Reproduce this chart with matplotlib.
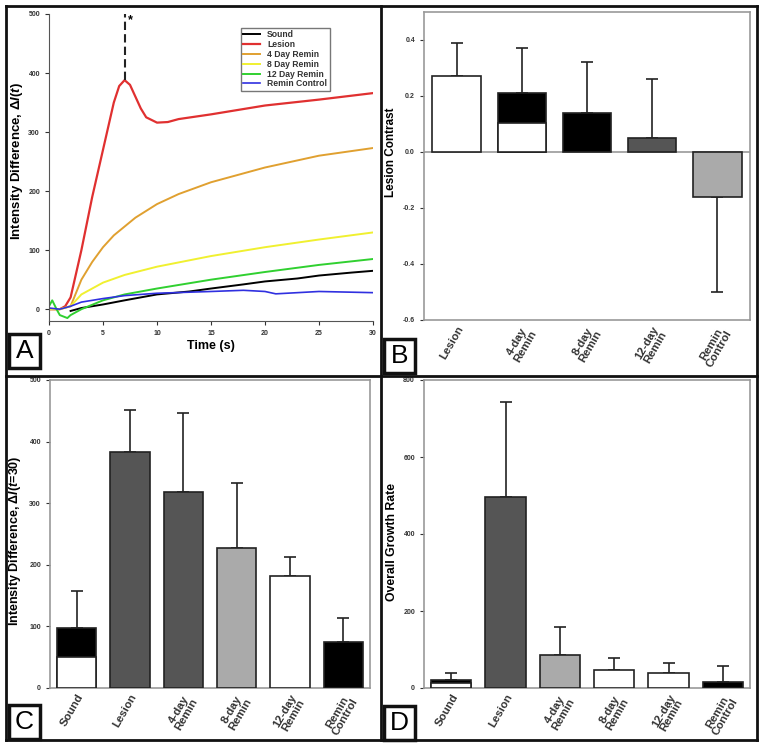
import matplotlib
matplotlib.use('Agg')

import matplotlib.pyplot as plt
from matplotlib.lines import Line2D
from matplotlib.patches import Rectangle
from matplotlib.transforms import ScaledTranslation

plt.rcParams['font.family'] = ['Liberation Sans', 'DejaVu Sans']
plt.rcParams['font.weight'] = 'bold'
plt.rcParams['mathtext.fontset'] = 'custom'
plt.rcParams['mathtext.rm'] = 'Liberation Sans:bold'
plt.rcParams['mathtext.it'] = 'Liberation Sans:bold:italic'

W, H = 764, 749

# Panel A: intensity difference over time
t_sound = [2, 3, 5, 7, 10, 13, 15, 18, 20, 23, 25, 28, 30]
y_sound = [-3, 2, 8, 15, 25, 30, 35, 42, 47, 52, 57, 62, 65]
t_lesion = [0, 1, 1.5, 2, 3, 4, 5, 6, 6.5, 7, 7.5, 8, 8.5, 9, 10, 11, 12, 15, 20, 25, 30]
y_lesion = [0, 0, 5, 20, 100, 190, 270, 350, 378, 388, 380, 360, 340, 325, 316, 317, 322, 330, 345, 355, 366]
t_4day = [0, 1, 2, 3, 4, 5, 6, 7, 8, 10, 12, 15, 20, 25, 30]
y_4day = [0, 0, 5, 50, 80, 105, 125, 140, 155, 178, 195, 215, 240, 260, 273]
t_8day = [0, 1, 2, 3, 5, 7, 10, 15, 20, 25, 30]
y_8day = [0, 0, 5, 25, 45, 58, 72, 90, 105, 118, 130]
t_12day = [0, 0.3, 0.7, 1, 1.7, 2, 3, 5, 7, 10, 15, 20, 25, 30]
y_12day = [5, 15, 0, -10, -15, -10, 0, 15, 25, 35, 50, 63, 75, 85]
t_ctrl = [0, 1, 2, 3, 5, 7, 10, 15, 18, 20, 21, 25, 30]
y_ctrl = [2, 0, 5, 12, 18, 23, 27, 30, 32, 30, 26, 30, 28]
peak_time = 7
peak_value = 388

# Panel B: lesion contrast
b_labels = ['Lesion', '4-day\nRemin', '8-day\nRemin', '12-day\nRemin', 'Remin\nControl']
b_values = [0.27, 0.21, 0.14, 0.05, -0.16]
b_split = [0, 0.105, 0, 0, 0]
b_err = [0.12, 0.16, 0.18, 0.21, 0.34]

# Panel C: intensity difference at t=30
c_labels = ['Sound', 'Lesion', '4-day\nRemin', '8-day\nRemin', '12-day\nRemin', 'Remin\nControl']
c_values = [98, 383, 318, 228, 182, 75]
c_split = [50, 0, 0, 0, 0, 0]
c_err = [59, 69, 128, 104, 30, 39]

# Panel D: overall growth rate
d_labels = c_labels
d_values = [22, 495, 85, 48, 40, 16]
d_split = [13, 0, 0, 0, 0, 0]
d_err = [16, 247, 73, 30, 25, 41]

b_colors = ['white', 'black', 'black', '#555555', '#aaaaaa']
c_colors = ['black', '#555555', '#555555', '#aaaaaa', 'white', 'black']
d_colors = ['black', '#555555', '#aaaaaa', 'white', 'white', 'black']

fig = plt.figure(figsize=(W / 100, H / 100), dpi=100)


def ax_at(left, top, right, bottom):
    return fig.add_axes([left / W, 1 - bottom / H, (right - left) / W, (bottom - top) / H])


def style_ticks(ax):
    ax.tick_params(axis='y', labelsize=5, length=3, colors='#333333', width=0.8)
    for lab in ax.get_yticklabels():
        lab.set_fontweight('bold')


def bar_panel(ax, labels, values, split, err, colors):
    x = list(range(len(values)))
    ax.bar(x, values, width=0.74, color=colors, edgecolor='#222222', linewidth=1.2, zorder=3)
    for i in x:
        if split[i]:
            ax.bar(i, split[i], width=0.74, color='white', edgecolor='#222222', linewidth=1.2, zorder=4)
        if values[i] < 0:
            lo, hi = [err[i]], [0]
        else:
            lo, hi = [0], [err[i]]
        ax.errorbar(i, values[i], yerr=[lo, hi], fmt='none', ecolor='#222222',
                    elinewidth=1.2, capsize=4, capthick=1.2, zorder=2)
    ax.set_xlim(-0.5, len(values) - 0.5)
    ax.set_xticks(x)
    ax.set_xticklabels(labels, rotation=60, ha='right', va='top', rotation_mode='anchor',
                       fontsize=8.2, fontweight='bold', color='#333333', linespacing=0.9,
                       multialignment='center')
    shift = ScaledTranslation(0.13, 0, fig.dpi_scale_trans)
    for lab in ax.get_xticklabels():
        lab.set_transform(lab.get_transform() + shift)
    ax.tick_params(axis='x', length=0, pad=3)
    for s in ax.spines.values():
        s.set_color('#999999')
        s.set_linewidth(1.2)


# Panel A
axA = ax_at(49, 14, 373, 321)
axA.plot(t_sound, y_sound, color='black', lw=1.4, label='Sound')
axA.plot(t_lesion, y_lesion, color='#e03030', lw=1.6, label='Lesion')
axA.plot(t_4day, y_4day, color='#e0a030', lw=1.4, label='4 Day Remin')
axA.plot(t_8day, y_8day, color='#f0f030', lw=1.4, label='8 Day Remin')
axA.plot(t_12day, y_12day, color='#30d030', lw=1.4, label='12 Day Remin')
axA.plot(t_ctrl, y_ctrl, color='#3030e0', lw=1.2, label='Remin Control')
axA.plot([peak_time, peak_time], [peak_value, 500], color='#222222', lw=1.5, ls=(0, (4, 2)))
axA.text(peak_time + 0.3, 490, '*', fontsize=9, ha='left', va='center')
axA.set_xlim(0, 30)
axA.set_ylim(-20, 500)
axA.set_xticks(range(0, 31, 5))
axA.set_yticks(range(0, 501, 100))
axA.tick_params(labelsize=5, length=3, colors='#333333', width=0.8)
for lab in axA.get_xticklabels() + axA.get_yticklabels():
    lab.set_fontweight('bold')
axA.set_xlabel('Time (s)', fontsize=9, fontweight='bold', labelpad=2)
axA.set_ylabel(r'Intensity Difference, $\Delta I(t)$', fontsize=9.5, fontweight='bold')
axA.yaxis.set_label_coords(-0.074, 0.52)
axA.spines['top'].set_visible(False)
axA.spines['right'].set_visible(False)
axA.spines['left'].set_color('#555555')
axA.spines['bottom'].set_color('#555555')
leg = axA.legend(loc='upper right', bbox_to_anchor=(0.88, 0.97), fontsize=6.2,
                 handlelength=2, borderpad=0.3, labelspacing=0.1, frameon=True,
                 fancybox=False, edgecolor='#555555')
for txt in leg.get_texts():
    txt.set_color('#333333')
    txt.set_fontweight('bold')

# Panel B
axB = ax_at(424, 12, 750, 320)
bar_panel(axB, b_labels, b_values, b_split, b_err, b_colors)
axB.axhline(0, color='#999999', lw=1.2, zorder=1)
axB.set_ylim(-0.6, 0.5)
axB.set_yticks([-0.6, -0.4, -0.2, 0.0, 0.2, 0.4])
axB.set_yticklabels(['-0.6', '-0.4', '-0.2', '0.0', '0.2', '0.4'])
style_ticks(axB)
axB.set_ylabel('Lesion Contrast', fontsize=8.5, fontweight='bold')
axB.yaxis.set_label_coords(-0.083, 0.545)

# Panel C
axC = ax_at(50, 380, 370, 688)
bar_panel(axC, c_labels, c_values, c_split, c_err, c_colors)
axC.set_ylim(0, 500)
axC.set_yticks(range(0, 501, 100))
style_ticks(axC)
axC.set_ylabel(r'Intensity Difference, $\Delta I(t$=30)', fontsize=9, fontweight='bold')
axC.yaxis.set_label_coords(-0.084, 0.477)

# Panel D
axD = ax_at(424, 380, 750, 688)
bar_panel(axD, d_labels, d_values, d_split, d_err, d_colors)
axD.set_ylim(0, 800)
axD.set_yticks(range(0, 801, 200))
style_ticks(axD)
axD.set_ylabel('Overall Growth Rate', fontsize=8.8, fontweight='bold')
axD.yaxis.set_label_coords(-0.08, 0.474)


# panel frames
def fig_line(x0, y0, x1, y1, lw=2):
    fig.add_artist(Line2D([x0 / W, x1 / W], [1 - y0 / H, 1 - y1 / H], color='#111111', lw=lw))


fig_line(6, 6, 757, 6)
fig_line(6, 740, 757, 740)
fig_line(6, 6, 6, 740)
fig_line(757, 6, 757, 740)
fig_line(381, 6, 381, 740)
fig_line(6, 376, 757, 376)

# letter boxes
for letter, x0, y0 in [('A', 9, 334), ('B', 384, 339), ('C', 9, 705), ('D', 384, 706)]:
    fig.add_artist(Rectangle((x0 / W, 1 - (y0 + 34) / H), 31 / W, 34 / H, facecolor='white',
                             edgecolor='#111111', lw=2.5))
    fig.text((x0 + 15.5) / W, 1 - (y0 + 17) / H, letter, fontsize=19, fontweight='normal',
             ha='center', va='center')

plt.savefig('out.png', dpi=100)
